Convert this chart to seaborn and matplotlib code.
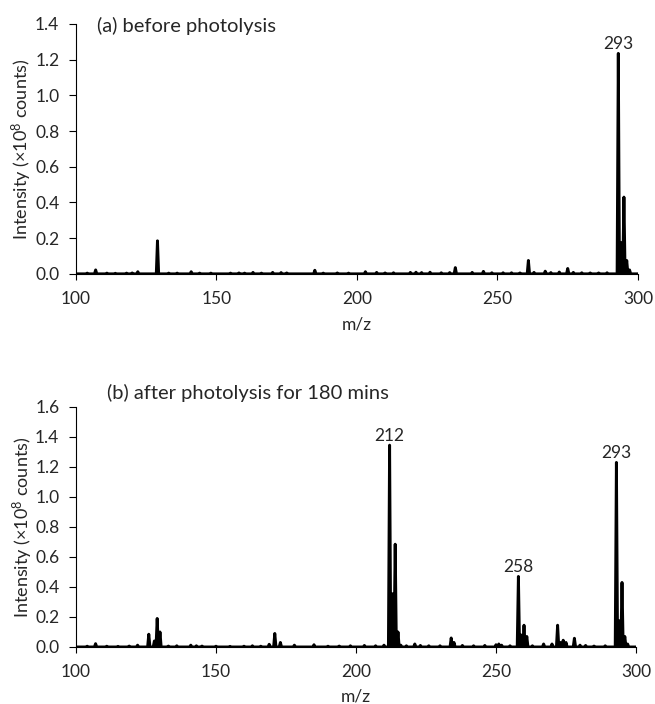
import numpy as np
import pandas as pd
import matplotlib
matplotlib.use("Agg")
import matplotlib.pyplot as plt
import seaborn as sns

# peak lists (m/z, intensity in 1e8 counts)
mz_a = [104, 107, 111, 114, 118, 120, 122, 129, 133, 136, 141, 144, 148, 155, 158, 160, 163, 166, 170,
        173, 175, 185, 188, 193, 197, 203, 207, 210, 213, 219, 221, 223, 226, 230, 233, 235, 241, 245,
        248, 252, 255, 258, 261, 263, 267, 269, 272, 275, 277, 280, 283, 286, 289, 293, 294, 295, 296, 297]
int_a = [0.004, 0.022, 0.004, 0.003, 0.004, 0.005, 0.012, 0.185, 0.004, 0.004, 0.012, 0.004, 0.004,
         0.004, 0.005, 0.004, 0.008, 0.004, 0.008, 0.007, 0.005, 0.02, 0.004, 0.005, 0.004, 0.012,
         0.008, 0.005, 0.006, 0.008, 0.009, 0.007, 0.009, 0.006, 0.007, 0.035, 0.008, 0.014, 0.006,
         0.006, 0.006, 0.005, 0.075, 0.008, 0.015, 0.007, 0.01, 0.03, 0.008, 0.006, 0.005, 0.005,
         0.006, 1.235, 0.175, 0.43, 0.075, 0.022]

mz_b = [104, 107, 111, 115, 119, 122, 126, 128, 129, 130, 133, 136, 141, 143, 145, 150, 155, 160, 163,
        166, 169, 171, 173, 178, 185, 190, 194, 198, 203, 207, 210, 212, 213, 214, 215, 216, 218, 221,
        223, 226, 230, 234, 235, 238, 242, 246, 250, 251, 252, 255, 258, 259, 260, 261, 263, 267, 270,
        272, 273, 274, 275, 278, 280, 282, 285, 289, 293, 294, 295, 296, 297]
int_b = [0.005, 0.022, 0.005, 0.004, 0.006, 0.012, 0.085, 0.04, 0.19, 0.1, 0.006, 0.008, 0.012, 0.008,
         0.006, 0.005, 0.004, 0.005, 0.008, 0.005, 0.018, 0.09, 0.03, 0.012, 0.015, 0.005, 0.006,
         0.008, 0.01, 0.008, 0.012, 1.345, 0.355, 0.685, 0.1, 0.012, 0.008, 0.02, 0.01, 0.008, 0.008,
         0.06, 0.03, 0.01, 0.008, 0.01, 0.015, 0.02, 0.012, 0.008, 0.47, 0.08, 0.145, 0.07, 0.008,
         0.02, 0.02, 0.145, 0.03, 0.045, 0.03, 0.058, 0.012, 0.01, 0.006, 0.008, 1.23, 0.175, 0.43,
         0.07, 0.02]

labels_a = [293]
labels_b = [212, 258, 293]


def profile(mz, inten, half=0.42):
    xs, ys = [100.0], [0.0]
    for m, v in zip(mz, inten):
        xs += [m - half, m, m + half]
        ys += [0.0, v, 0.0]
    xs.append(300.0)
    ys.append(0.0)
    return pd.DataFrame({"mz": xs, "intensity": ys})


sns.set_theme(style="ticks")
plt.rcParams["font.family"] = ["Lato", "DejaVu Sans"]
plt.rcParams["mathtext.fontset"] = "custom"
plt.rcParams["mathtext.rm"] = "Lato"
plt.rcParams["mathtext.default"] = "regular"

fig = plt.figure(figsize=(6.55, 7.04), dpi=100)
ax_a = fig.add_axes([0.116, 0.611, 0.858, 0.355])
ax_b = fig.add_axes([0.116, 0.081, 0.855, 0.341])

panels = [
    (ax_a, mz_a, int_a, labels_a, 1.4, "(a) before photolysis", 0.037, 0.992),
    (ax_b, mz_b, int_b, labels_b, 1.6, "(b) after photolysis for 180 mins", 0.055, 1.058),
]

for ax, mz, inten, labs, ymax, title, tx, ty in panels:
    df = profile(mz, inten)
    sns.lineplot(data=df, x="mz", y="intensity", ax=ax, color="black",
                 lw=2.1, estimator=None, sort=False)
    for m in labs:
        v = inten[mz.index(m)]
        ax.annotate(str(m), (m, v), xytext=(0, 1), textcoords="offset points",
                    ha="center", va="bottom", fontsize=12.5)
    ax.set_xlim(100, 300)
    ax.set_ylim(0, ymax)
    ax.set_xticks([100, 150, 200, 250, 300])
    ax.set_yticks(np.arange(0, ymax + 0.01, 0.2))
    ax.yaxis.set_major_formatter(matplotlib.ticker.FormatStrFormatter("%.1f"))
    ax.set_xlabel("m/z", fontsize=12.5)
    ax.set_ylabel("Intensity (×10$^{8}$ counts)", fontsize=13)
    ax.xaxis.set_label_coords(0.5, -0.172)
    ax.yaxis.set_label_coords(-0.074, 0.5)
    ax.tick_params(axis="x", labelsize=12.5, length=4, width=0.8, color="black", pad=8)
    ax.tick_params(axis="y", labelsize=12.5, length=5, width=0.8, color="black", pad=7)
    for s in ["top", "right"]:
        ax.spines[s].set_visible(False)
    for s in ["left", "bottom"]:
        ax.spines[s].set_color("black")
        ax.spines[s].set_linewidth(0.8)
    ax.text(tx, ty, title, transform=ax.transAxes, fontsize=14.5,
            ha="left", va="center")

fig.savefig("out.png", dpi=100)
